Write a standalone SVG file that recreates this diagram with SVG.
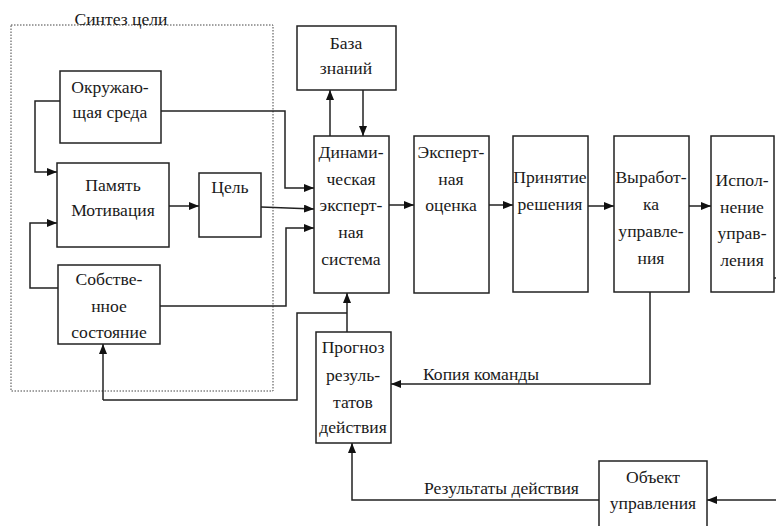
<svg xmlns="http://www.w3.org/2000/svg" width="776" height="526" viewBox="0 0 776 526">
<style>
text{font-family:"Liberation Serif",serif;font-size:17.6px;fill:#1a1a1a;text-anchor:middle}
.box{fill:#fff;stroke:#222;stroke-width:1.5}
.ln{fill:none;stroke:#222;stroke-width:1.5}
.arr{fill:none;stroke:#222;stroke-width:1.5;marker-end:url(#ah)}
.lbl{text-anchor:start}
</style>
<defs>
<marker id="ah" viewBox="0 0 10 8" refX="10" refY="4" markerWidth="10" markerHeight="8" markerUnits="userSpaceOnUse" orient="auto">
<path d="M0,0 L10,4 L0,8 Z" fill="#111"/>
</marker>
</defs>
<rect width="776" height="526" fill="#fff"/>
<g id="synthesis">
<rect x="11" y="25" width="262" height="366" fill="none" stroke="#444" stroke-width="1" stroke-dasharray="1.5,1.5"/>
<text x="121" y="25">Синтез цели</text>
</g>
<g id="connectors">
<polyline class="arr" points="60,101 35,101 35,172 57,172"/>
<polyline class="arr" points="58,288 30,288 30,223 57,223"/>
<line class="arr" x1="169" y1="206" x2="199" y2="206"/>
<polyline class="arr" points="161,111 285,111 285,188 314,188"/>
<polyline class="arr" points="261,207 314,209"/>
<polyline class="arr" points="160,306 286,306 286,228 314,228"/>
<line class="arr" x1="330" y1="136" x2="330" y2="90"/>
<line class="arr" x1="363" y1="90" x2="363" y2="136"/>
<line class="arr" x1="389" y1="205" x2="414" y2="205"/>
<line class="arr" x1="489" y1="205" x2="513" y2="205"/>
<line class="arr" x1="588" y1="206" x2="614" y2="206"/>
<line class="arr" x1="689" y1="206" x2="711" y2="206"/>
<line class="arr" x1="347" y1="332" x2="347" y2="293"/>
<polyline class="ln" points="347,313 297,313 297,400 103,400"/>
<line class="arr" x1="103" y1="400" x2="103" y2="344"/>
<polyline class="arr" points="650,292 650,384 391,384"/>
<polyline class="arr" points="599,500 352,500 352,443"/>
<line class="arr" x1="776" y1="500" x2="707" y2="500"/>
<line class="ln" x1="773" y1="278" x2="776" y2="278"/>
<text class="lbl" x="423" y="380">Копия команды</text>
<text class="lbl" x="424" y="494">Результаты действия</text>
</g>
<g id="env">
<rect class="box" x="60" y="71" width="101" height="72"/>
<text x="110" y="93">Окружаю-</text>
<text x="110" y="118">щая среда</text>
</g>
<g id="memory">
<rect class="box" x="57" y="163" width="112" height="84"/>
<text x="113" y="191">Память</text>
<text x="113" y="216">Мотивация</text>
</g>
<g id="goal">
<rect class="box" x="199" y="173" width="62" height="64"/>
<text x="230" y="193">Цель</text>
</g>
<g id="own">
<rect class="box" x="58" y="265" width="102" height="79"/>
<text x="109" y="285">Собстве-</text>
<text x="109" y="312">нное</text>
<text x="109" y="338">состояние</text>
</g>
<g id="kb">
<rect class="box" x="297" y="26" width="99" height="64"/>
<text x="346" y="49">База</text>
<text x="346" y="74">знаний</text>
</g>
<g id="des">
<rect class="box" x="314" y="136" width="75" height="157"/>
<text x="351" y="158">Динами-</text>
<text x="351" y="185">ческая</text>
<text x="351" y="211">эксперт-</text>
<text x="351" y="238">ная</text>
<text x="351" y="265">система</text>
</g>
<g id="expert">
<rect class="box" x="414" y="136" width="75" height="157"/>
<text x="451" y="158">Эксперт-</text>
<text x="451" y="185">ная</text>
<text x="451" y="211">оценка</text>
</g>
<g id="decision">
<rect class="box" x="513" y="136" width="75" height="156"/>
<text x="550" y="183">Принятие</text>
<text x="550" y="210">решения</text>
</g>
<g id="control">
<rect class="box" x="614" y="136" width="75" height="156"/>
<text x="651" y="183">Выработ-</text>
<text x="651" y="210">ка</text>
<text x="651" y="237">управле-</text>
<text x="651" y="264">ния</text>
</g>
<g id="exec">
<rect class="box" x="711" y="136" width="63" height="156"/>
<text x="742" y="186">Испол-</text>
<text x="742" y="213">нение</text>
<text x="742" y="239">управ-</text>
<text x="742" y="266">ления</text>
</g>
<g id="forecast">
<rect class="box" x="316" y="332" width="75" height="111"/>
<text x="353" y="353">Прогноз</text>
<text x="353" y="381">резуль-</text>
<text x="353" y="408">татов</text>
<text x="353" y="433">действия</text>
</g>
<g id="object">
<rect class="box" x="599" y="461" width="108" height="70"/>
<text x="653" y="483">Объект</text>
<text x="653" y="509">управления</text>
</g>
</svg>
